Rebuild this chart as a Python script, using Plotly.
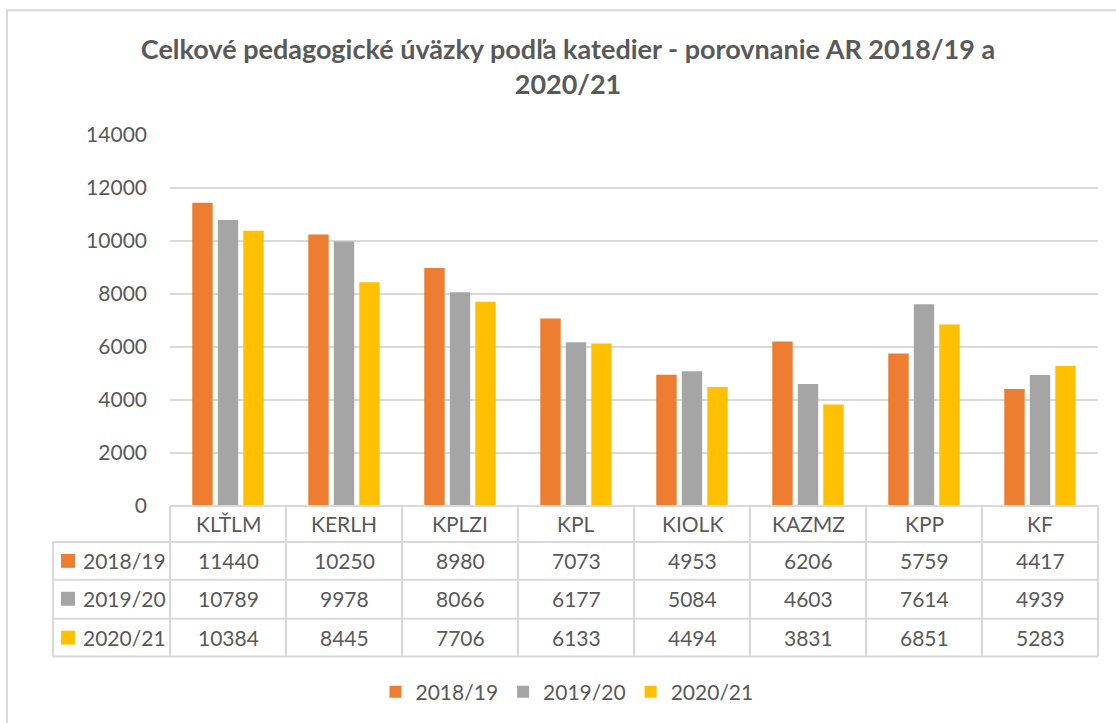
import plotly.graph_objects as go

# Departments and workload totals per academic year
categories = ["KLŤLM", "KERLH", "KPLZI", "KPL", "KIOLK", "KAZMZ", "KPP", "KF"]
years = ["2018/19", "2019/20", "2020/21"]
vals_2018_19 = [11440, 10250, 8980, 7073, 4953, 6206, 5759, 4417]
vals_2019_20 = [10789, 9978, 8066, 6177, 5084, 4603, 7614, 4939]
vals_2020_21 = [10384, 8445, 7706, 6133, 4494, 3831, 6851, 5283]
y_ticks = [0, 2000, 4000, 6000, 8000, 10000, 12000, 14000]
y_tick_labels = ["0", "2000", "4000", "6000", "8000", "10000", "12000", "14000"]

series = [vals_2018_19, vals_2019_20, vals_2020_21]
colors = ["#ED7D31", "#A5A5A5", "#FFC000"]

FONT = "Lato"
TEXT = "#595959"
LINE = "#D9D9D9"

W, H = 1116, 723
L, R, T, B = 170, 18, 135, 216
PW, PH = W - L - R, H - T - B


def px(x):
    return (x - L) / PW


def py(y):
    return (H - B - y) / PH


fig = go.Figure()
for name, vals, col in zip(years, series, colors):
    fig.add_trace(go.Bar(x=categories, y=vals, name=name, marker=dict(color=col, line=dict(width=0))))

shapes = []
# outer chart frame
shapes.append(dict(type="rect", xref="paper", yref="paper", x0=px(7), x1=px(1130), y0=py(10), y1=py(740),
                   line=dict(color=LINE, width=2), layer="below"))

# data table grid
cell_w = PW / len(categories)
rows_y = [507, 543, 581, 620, 658]
for i, yy in enumerate(rows_y):
    x_start = 170 if i == 0 else 53
    shapes.append(dict(type="line", xref="paper", yref="paper", x0=px(x_start), x1=px(L + PW),
                       y0=py(yy), y1=py(yy), line=dict(color=LINE, width=2)))
shapes.append(dict(type="line", xref="paper", yref="paper", x0=px(53), x1=px(53),
                   y0=py(543), y1=py(658), line=dict(color=LINE, width=2)))
for k in range(len(categories) + 1):
    xx = L + k * cell_w
    shapes.append(dict(type="line", xref="paper", yref="paper", x0=px(xx), x1=px(xx),
                       y0=py(507), y1=py(658), line=dict(color=LINE, width=2)))

annotations = []
row_centers = [562, 600, 639]
for cat in categories:
    annotations.append(dict(x=cat, xref="x", y=py(525), yref="paper", text=cat, showarrow=False,
                            font=dict(family=FONT, size=21, color=TEXT), xanchor="center", yanchor="middle"))
for r, (name, vals, col) in enumerate(zip(years, series, colors)):
    yc = row_centers[r]
    shapes.append(dict(type="rect", xref="paper", yref="paper", x0=px(61), x1=px(75),
                       y0=py(yc - 7), y1=py(yc + 7), fillcolor=col, line=dict(width=0)))
    annotations.append(dict(x=px(81), xref="paper", y=py(yc), yref="paper", text=name, showarrow=False,
                            font=dict(family=FONT, size=21, color=TEXT), xanchor="left", yanchor="middle"))
    for cat, v in zip(categories, vals):
        annotations.append(dict(x=cat, xref="x", y=py(yc), yref="paper", text=str(v), showarrow=False,
                                font=dict(family=FONT, size=21, color=TEXT), xanchor="center", yanchor="middle"))

fig.update_layout(
    width=W, height=H,
    margin=dict(l=L, r=R, t=T, b=B),
    paper_bgcolor="white", plot_bgcolor="white",
    title=dict(text="Celkové pedagogické úväzky podľa katedier - porovnanie AR 2018/19 a<br>2020/21",
               x=568 / W, xanchor="center", y=1 - 59 / H, yanchor="middle",
               font=dict(family=FONT, size=27, color=TEXT, weight="bold")),
    barmode="group", bargap=0.34, bargroupgap=0.2,
    xaxis=dict(showticklabels=False, showline=False, showgrid=False, zeroline=False, ticks=""),
    yaxis=dict(range=[0, 14000], tickvals=y_ticks, ticktext=y_tick_labels, showgrid=True,
               gridcolor=LINE, gridwidth=1.5, zeroline=False, showline=False, ticks="",
               ticklabelstandoff=22, tickfont=dict(family=FONT, size=21, color=TEXT)),
    legend=dict(orientation="h", x=px(567), xanchor="center", y=py(692), yanchor="middle",
                font=dict(family=FONT, size=21, color=TEXT), itemwidth=30, traceorder="normal"),
    shapes=shapes, annotations=annotations,
)

fig.write_html("out.html")
